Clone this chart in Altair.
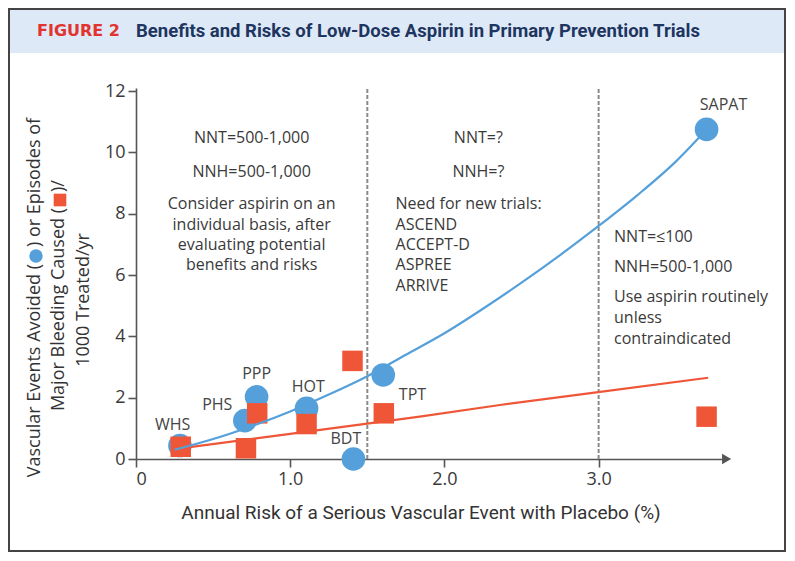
import altair as alt
import pandas as pd

# ---- data ----
trials = ["WHS", "PHS", "PPP", "HOT", "BDT", "TPT", "SAPAT"]
risk_circle = [0.285, 0.706, 0.782, 1.106, 1.41, 1.603, 3.70]
events_avoided = [0.44, 1.25, 2.03, 1.65, 0.0, 2.74, 10.75]
risk_square = [0.29, 0.713, 0.786, 1.106, 1.404, 1.607, 3.70]
bleeding_caused = [0.40, 0.35, 1.49, 1.14, 3.20, 1.49, 1.38]

label_x = [0.238, 0.527, 0.782, 1.117, 1.361, 1.793, 3.81]
label_y = [1.11, 1.76, 2.77, 2.34, 0.64, 2.09, 11.54]

benefit_curve_x = [0.25, 0.5, 0.75, 1.0, 1.25, 1.5, 1.75, 2.0, 2.25, 2.5, 2.75, 3.0, 3.25, 3.5, 3.70]
benefit_curve_y = [0.30, 0.65, 1.07, 1.55, 2.10, 2.70, 3.40, 4.10, 4.90, 5.75, 6.65, 7.60, 8.60, 9.70, 10.75]
harm_line_x = [0.25, 1.0, 1.84, 2.36, 3.01, 3.71]
harm_line_y = [0.32, 0.82, 1.38, 1.76, 2.19, 2.65]

threshold_x = [1.5, 3.0]

ann_text = ["NNT=500-1,000", "NNH=500-1,000", "Consider aspirin on an", "individual basis, after",
            "evaluating potential", "benefits and risks",
            "NNT=?", "NNH=?",
            "Need for new trials:", "ASCEND", "ACCEPT-D", "ASPREE", "ARRIVE",
            "NNT=\u2264100", "NNH=500-1,000", "Use aspirin routinely", "unless", "contraindicated"]
ann_x = [0.75, 0.75, 0.75, 0.75, 0.75, 0.75,
         2.22, 2.22,
         1.683, 1.683, 1.683, 1.683, 1.683,
         3.10, 3.10, 3.10, 3.10, 3.10]
ann_y = [10.47, 9.36, 8.31, 7.64, 6.98, 6.33,
         10.47, 9.36,
         8.31, 7.64, 6.98, 6.33, 5.65,
         7.23, 6.27, 5.27, 4.60, 3.90]
ann_align = ["center"] * 8 + ["left"] * 10

BLUE = "#55a0da"
RED = "#ef5638"
AXIS = "#555555"
TXT = "#3a3a3a"
FONT = "Open Sans"
NARROW = "Roboto"

xscale = alt.Scale(domain=[0, 3.80], nice=False, zero=False)
yscale = alt.Scale(domain=[0, 12.1], nice=False, zero=False)
xaxis = alt.Axis(values=[0, 1, 2, 3], labelExpr="datum.value == 0 ? '0' : format(datum.value, '.1f')",
                 title=None, grid=False, domainColor=AXIS, domainWidth=1.6, tickColor=AXIS,
                 tickWidth=1.6, tickSize=8, labelFont=FONT, labelFontSize=18, labelColor=TXT,
                 labelPadding=3)
yaxis = alt.Axis(values=list(range(0, 13, 2)), title=None, grid=False, domainColor=AXIS,
                 domainWidth=1.6, tickColor=AXIS, tickWidth=1.6, tickSize=8, labelFont=FONT,
                 labelFontSize=18, labelColor=TXT, labelPadding=3)


def X(field):
    return alt.X(field, type="quantitative", scale=xscale, axis=xaxis)


def Y(field):
    return alt.Y(field, type="quantitative", scale=yscale, axis=yaxis)


one = alt.Data(values=[{"a": 1}])

pts = pd.DataFrame({"trial": trials, "xc": risk_circle, "yc": events_avoided,
                    "xs": risk_square, "ys": bleeding_caused, "lx": label_x, "ly": label_y})
curve = pd.DataFrame({"x": benefit_curve_x, "y": benefit_curve_y})
harm = pd.DataFrame({"x": harm_line_x, "y": harm_line_y})
thr = pd.DataFrame({"x": threshold_x, "y0": [0, 0], "y1": [12.1, 12.1]})
ann = pd.DataFrame({"t": ann_text, "x": ann_x, "y": ann_y, "al": ann_align})
arrow = pd.DataFrame({"x": [3.83], "y": [0]})

# decorations (pixel positions relative to plot origin)
band = alt.Chart(one).mark_rect(fill="#dde9f6").encode(
    x=alt.value(-127), x2=alt.value(649), y=alt.value(-79), y2=alt.value(-35))
frame = alt.Chart(one).mark_rect(fill=None, stroke="#444444", strokeWidth=2).encode(
    x=alt.value(-127), x2=alt.value(649), y=alt.value(-79), y2=alt.value(463))

fig_label = alt.Chart(one).mark_text(text="FIGURE 2", font="DejaVu Sans", fontWeight="bold",
                                     fontSize=16, color="#e2332f", align="left", baseline="middle").encode(
    x=alt.value(-99), y=alt.value(-57))
fig_title = alt.Chart(one).mark_text(text="Benefits and Risks of Low-Dose Aspirin in Primary Prevention Trials",
                                     font=NARROW, fontWeight="bold", fontSize=18.5, color="#1d3560",
                                     align="left", baseline="middle").encode(
    x=alt.value(0), y=alt.value(-57))

x_title = alt.Chart(one).mark_text(text="Annual Risk of a Serious Vascular Event with Placebo (%)",
                                   font=NARROW, fontSize=19, color="#333333", align="center",
                                   baseline="middle").encode(x=alt.value(285), y=alt.value(425))


def ytxt(t, x, y, align):
    return alt.Chart(one).mark_text(text=t, font=FONT, fontSize=18, color="#333333", angle=270,
                                    align=align, baseline="middle").encode(x=alt.value(x), y=alt.value(y))


y1a = ytxt("Vascular Events Avoided (", -101, 176, "right")
y1c = alt.Chart(one).mark_point(shape="circle", filled=True, color=BLUE, size=180, opacity=1).encode(
    x=alt.value(-100), y=alt.value(168))
y1b = ytxt(") or Episodes of", -101, 159, "left")
y2a = ytxt("Major Bleeding Caused (", -77, 120, "right")
y2s = alt.Chart(one).mark_point(shape="square", filled=True, color=RED, size=160, opacity=1).encode(
    x=alt.value(-76), y=alt.value(112))
y2b = ytxt(")/", -77, 104, "left")
y3 = ytxt("1000 Treated/yr", -52, 212, "center")

rules = alt.Chart(thr).mark_rule(color="#8a8a8a", strokeWidth=2, strokeDash=[4, 2]).encode(
    x=X("x"), y=Y("y0"), y2="y1")

circles = alt.Chart(pts).mark_point(shape="circle", filled=True, color=BLUE, size=560, opacity=1).encode(
    x=X("xc"), y=Y("yc"))
squares = alt.Chart(pts).mark_point(shape="square", filled=True, color=RED, size=420, opacity=1).encode(
    x=X("xs"), y=Y("ys"))
harm_line = alt.Chart(harm).mark_line(color=RED, strokeWidth=2.2).encode(x=X("x"), y=Y("y"))
ben_line = alt.Chart(curve).mark_line(color=BLUE, strokeWidth=2.2, interpolate="monotone").encode(
    x=X("x"), y=Y("y"))
labels = alt.Chart(pts).mark_text(font=FONT, fontSize=16, color="#444444", align="center",
                                  baseline="middle").encode(x=X("lx"), y=Y("ly"), text="trial")
ann_center = alt.Chart(ann).transform_filter(alt.datum.al == "center").mark_text(
    font=FONT, fontSize=16, color=TXT, baseline="middle", align="center").encode(
    x=X("x"), y=Y("y"), text="t")
ann_left = alt.Chart(ann).transform_filter(alt.datum.al == "left").mark_text(
    font=FONT, fontSize=16, color=TXT, baseline="middle", align="left").encode(
    x=X("x"), y=Y("y"), text="t")
arrow_layer = alt.Chart(arrow).mark_point(shape="triangle-right", filled=True, color=AXIS, size=110,
                                          opacity=1).encode(x=X("x"), y=Y("y"))

chart = alt.layer(
    band, rules, circles, squares, harm_line, ben_line, labels, ann_center, ann_left,
    arrow_layer, fig_label, fig_title, x_title, y1a, y1c, y1b, y2a, y2s, y2b, y3, frame
).properties(
    width=586, height=371,
    autosize=alt.AutoSizeParams(type="none"),
    padding={"left": 128, "top": 80, "right": 65, "bottom": 93},
    background="white",
).configure_view(stroke=None)

chart.save("out.html", embed_options={"renderer": "svg", "actions": False})
